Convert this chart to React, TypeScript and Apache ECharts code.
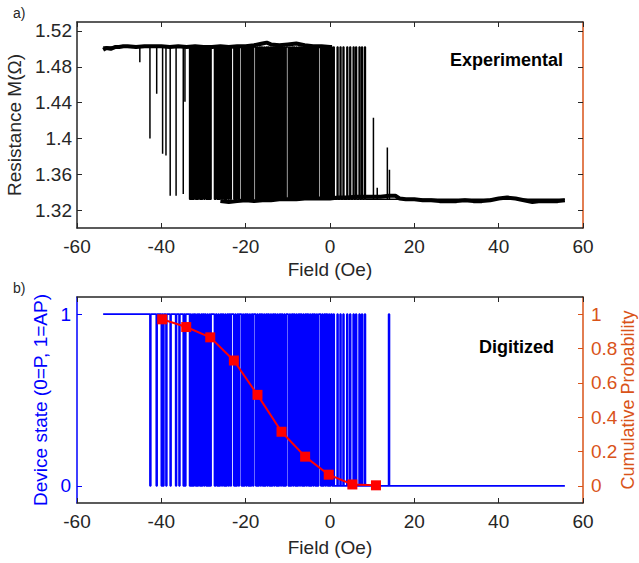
import React, { useEffect, useRef } from "react";
import * as echarts from "echarts";

// ---------- data ----------
const resistanceTicks = [1.32, 1.36, 1.4, 1.44, 1.48, 1.52];
const stateTicks = [0, 1];
const probTicks = [0, 0.2, 0.4, 0.6, 0.8, 1];

// switching levels of the experimental trace (MΩ)
const highLevel = 1.502;
const lowLevel = 1.332;
const traceStart = -53.8;
const traceEnd = 55.7;

// noisy high-resistance (AP) band [field, R]
const highBand: [number, number][] = [
  [-53.8, 1.499], [-53, 1.501], [-52, 1.5], [-51, 1.502], [-50, 1.502], [-49, 1.503],
  [-48, 1.503], [-46, 1.502], [-44, 1.503], [-42, 1.503], [-40, 1.503], [-38, 1.502],
  [-36, 1.503], [-34, 1.502], [-32, 1.503], [-30, 1.502], [-28, 1.502], [-26, 1.503],
  [-24, 1.502], [-22, 1.503], [-20, 1.503], [-18, 1.504], [-16, 1.506], [-15, 1.507],
  [-14, 1.505], [-12, 1.504], [-10, 1.505], [-8, 1.506], [-6, 1.504], [-4, 1.503],
  [-2, 1.503], [0, 1.502], [0.5, 1.502],
];

// noisy low-resistance (P) band [field, R]
const lowBand: [number, number][] = [
  [-26, 1.33], [-24, 1.329], [-22, 1.33], [-20, 1.331], [-18, 1.33], [-16, 1.331],
  [-14, 1.331], [-12, 1.332], [-10, 1.332], [-8, 1.332], [-6, 1.333], [-4, 1.333],
  [-2, 1.333], [0, 1.333], [2, 1.334], [4, 1.334], [6, 1.335], [8, 1.335], [10, 1.335],
  [12, 1.335], [14, 1.336], [15.5, 1.336], [16.5, 1.333], [18, 1.332], [20, 1.332],
  [22, 1.331], [24, 1.331], [26, 1.33], [28, 1.33], [30, 1.33], [32, 1.331], [34, 1.33],
  [36, 1.33], [38, 1.331], [40, 1.333], [42, 1.334], [44, 1.333], [46, 1.331], [48, 1.329],
  [50, 1.33], [52, 1.33], [54, 1.33], [55.7, 1.331],
];

// isolated downward spikes of the experimental trace before the dense region [field, minimum R]
const expLeftSpikes: [number, number][] = [
  [-45.1, 1.485], [-42.7, 1.4], [-41.1, 1.45], [-39.7, 1.383], [-38.9, 1.381],
  [-37.9, 1.336], [-36.5, 1.336], [-34.8, 1.338], [-34.4, 1.441],
];

// upward spikes of the experimental trace after switching [field, maximum R]
const expRightSpikes: [number, number][] = [
  [10.3, 1.423], [11.2, 1.345], [13.6, 1.39], [14.1, 1.365],
];

// digitized state flips before the dense region (starting in AP = 1)
const digLeftToggles = [
  -42.7, -42.5, -41.2, -41.0, -40.0, -39.8, -39.6, -39.4, -38.9, -38.7,
  -37.9, -37.7, -36.6, -36.4, -35.8, -35.6, -34.8, -34.6, -34.4, -34.2,
];

// state flips common to both panels (dense telegraph-noise region)
const sharedToggles = [
  -33.3, -33.1, -32.9, -32.6, -32.4, -32.2, -31.9, -31.6, -31.4, -31.2, -30.9,
  -30.6, -30.4, -30.2, -29.9, -29.7, -29.4, -29.1, -28.9, -28.6, -28.4, -28.2,
  -27.4, -27.1, -26.8, -26.5, -26.3, -26.0, -25.7, -25.5, -25.2, -24.9, -24.7,
  -24.4, -24.1, -23.9, -23.6, -23.4,
  -22.8, -22.5, -22.3, -22.0, -21.7, -21.5,
  -21.0, -20.7, -20.5, -20.2, -19.9, -19.7, -19.4, -19.1, -18.9, -18.6, -18.3, -18.1,
  -17.6, -17.3, -17.1, -16.8, -16.5, -16.3, -16.0, -15.7, -15.5, -15.2, -14.9,
  -14.7, -14.4, -14.1, -13.9, -13.6, -13.3, -13.1, -12.8, -12.5, -12.3, -12.0,
  -11.7, -11.5, -11.2, -10.9, -10.7, -10.4,
  -9.9, -9.6, -9.4, -9.1, -8.8, -8.6, -8.3, -8.0, -7.8, -7.5, -7.2, -7.0, -6.7,
  -6.4, -6.2, -5.9, -5.6, -5.4, -5.1, -4.8, -4.6, -4.3, -4.0, -3.8, -3.5, -3.2,
  -3.0, -2.7,
  -2.2, -1.9, -1.7, -1.4, -1.1, -0.9, -0.6, -0.3, -0.1, 0.2, 0.5,
  0.8, 1.0, 1.7, 1.9, 2.4, 2.6, 3.1, 3.3, 4.0, 4.2, 4.7, 4.9, 5.5, 5.7, 6.1, 6.3,
  6.9, 7.1, 7.5, 7.7, 8.2, 8.4,
];

// digitized flips after the dense region
const digRightToggles = [13.9, 14.1];

// cumulative switching probability
const probFields = [-39.8, -34.1, -28.4, -22.8, -17.2, -11.5, -5.9, -0.3, 5.3, 10.9];
const probValues = [0.97, 0.925, 0.865, 0.73, 0.53, 0.315, 0.17, 0.065, 0.008, 0.003];

// ---------- styling ----------
const FONT = "'Liberation Sans', Arial, Helvetica, sans-serif";
const DARK = "#262626";
const ORANGE = "#D95319";
const BLUE = "#0000FF";
const RED = "#FF0000";

function buildTopTrace(): [number, number][] {
  const pts: [number, number][] = [[traceStart, highLevel]];
  for (const [f, r] of expLeftSpikes) {
    pts.push([f, highLevel], [f, r], [f, highLevel]);
  }
  let high = true;
  for (const f of sharedToggles) {
    pts.push([f, high ? highLevel : lowLevel]);
    high = !high;
    pts.push([f, high ? highLevel : lowLevel]);
  }
  for (const [f, r] of expRightSpikes) {
    pts.push([f, lowLevel], [f, r], [f, lowLevel]);
  }
  pts.push([traceEnd, lowLevel]);
  return pts;
}

function buildDigitized(): [number, number][] {
  const toggles = [...digLeftToggles, ...sharedToggles, ...digRightToggles];
  let state = 1;
  const pts: [number, number][] = [[traceStart, state]];
  for (const f of toggles) {
    pts.push([f, state]);
    state = 1 - state;
    pts.push([f, state]);
  }
  pts.push([traceEnd, state]);
  return pts;
}

function xAxes(gridIndex: number) {
  const base = {
    type: "value" as const,
    gridIndex,
    min: -60,
    max: 60,
    interval: 20,
    splitLine: { show: false },
    axisLine: { onZero: false, lineStyle: { color: DARK, width: 1.5 } },
    axisTick: { inside: true, length: 5, lineStyle: { color: DARK, width: 1 } },
  };
  return [
    {
      ...base,
      position: "bottom",
      axisLabel: { fontSize: 19, color: DARK, margin: 9, fontFamily: FONT },
      name: "Field (Oe)",
      nameLocation: "middle",
      nameGap: gridIndex === 0 ? 32 : 35,
      nameTextStyle: { fontSize: 19, color: DARK, fontFamily: FONT },
    },
    { ...base, position: "top", axisLabel: { show: false } },
  ];
}

const fmt = (v: number) => String(+Number(v).toFixed(2));

export default function App() {
  const ref = useRef<HTMLDivElement>(null);

  useEffect(() => {
    if (!ref.current) return;
    const chart = echarts.init(ref.current, undefined, { renderer: "svg" });

    const option: any = {
      animation: false,
      backgroundColor: "#ffffff",
      textStyle: { fontFamily: FONT },
      grid: [
        { left: 77, right: 56, top: 22, height: 206, outerBoundsMode: "none", containLabel: false },
        { left: 77, right: 56, top: 297, height: 206, outerBoundsMode: "none", containLabel: false },
      ],
      xAxis: [...xAxes(0), ...xAxes(1)],
      yAxis: [
        {
          type: "value",
          gridIndex: 0,
          position: "left",
          min: 1.3,
          max: 1.53,
          splitLine: { show: false },
          axisLine: { onZero: false, lineStyle: { color: DARK, width: 1.5 } },
          axisTick: { inside: true, length: 5, customValues: resistanceTicks, lineStyle: { color: DARK } },
          axisLabel: { customValues: resistanceTicks, formatter: fmt, fontSize: 19, color: DARK, margin: 5, fontFamily: FONT },
          name: "Resistance M(Ω)",
          nameLocation: "middle",
          nameRotate: 90,
          nameGap: 48,
          nameTextStyle: { fontSize: 19, color: DARK, fontFamily: FONT },
        },
        {
          type: "value",
          gridIndex: 0,
          position: "right",
          min: 1.3,
          max: 1.53,
          splitLine: { show: false },
          axisLine: { onZero: false, lineStyle: { color: ORANGE, width: 1.5 } },
          axisTick: { inside: true, length: 5, customValues: resistanceTicks, lineStyle: { color: DARK } },
          axisLabel: { show: false },
        },
        {
          type: "value",
          gridIndex: 1,
          position: "left",
          min: -0.1,
          max: 1.1,
          splitLine: { show: false },
          axisLine: { onZero: false, lineStyle: { color: BLUE, width: 1.5 } },
          axisTick: { inside: true, length: 5, customValues: stateTicks, lineStyle: { color: BLUE } },
          axisLabel: { customValues: stateTicks, formatter: fmt, fontSize: 19, color: BLUE, margin: 6, fontFamily: FONT },
          name: "Device state (0=P, 1=AP)",
          nameLocation: "middle",
          nameRotate: 90,
          nameGap: 17,
          nameTextStyle: { fontSize: 19, color: BLUE, fontFamily: FONT },
        },
        {
          type: "value",
          gridIndex: 1,
          position: "right",
          min: -0.1,
          max: 1.1,
          splitLine: { show: false },
          axisLine: { onZero: false, lineStyle: { color: ORANGE, width: 1.5 } },
          axisTick: { inside: true, length: 5, customValues: probTicks, lineStyle: { color: ORANGE } },
          axisLabel: { customValues: probTicks, formatter: fmt, fontSize: 19, color: ORANGE, margin: 8, fontFamily: FONT },
        },
      ],
      series: [
        {
          type: "line",
          xAxisIndex: 0,
          yAxisIndex: 0,
          data: buildTopTrace(),
          showSymbol: false,
          symbol: "none",
          lineStyle: { color: "#000", width: 1.5 },
          silent: true,
          z: 2,
        },
        {
          type: "line",
          xAxisIndex: 0,
          yAxisIndex: 0,
          data: highBand,
          symbol: "none",
          lineStyle: { color: "#000", width: 4 },
          silent: true,
          z: 3,
        },
        {
          type: "line",
          xAxisIndex: 0,
          yAxisIndex: 0,
          data: lowBand,
          symbol: "none",
          lineStyle: { color: "#000", width: 4 },
          silent: true,
          z: 3,
        },
        {
          type: "line",
          xAxisIndex: 2,
          yAxisIndex: 2,
          data: buildDigitized(),
          symbol: "none",
          lineStyle: { color: BLUE, width: 1.7 },
          silent: true,
          z: 2,
        },
        {
          type: "line",
          xAxisIndex: 2,
          yAxisIndex: 3,
          data: probFields.map((f, i) => [f, probValues[i]]),
          symbol: "rect",
          symbolSize: 10,
          itemStyle: { color: RED },
          lineStyle: { color: RED, width: 2 },
          silent: true,
          z: 4,
        },
      ],
      graphic: [
        { type: "text", left: 13, top: 6, style: { text: "a)", fontSize: 14, fill: DARK, fontFamily: FONT } },
        { type: "text", left: 13, top: 281, style: { text: "b)", fontSize: 14, fill: DARK, fontFamily: FONT } },
        {
          type: "text",
          x: 563,
          y: 60,
          style: { text: "Experimental", fontSize: 18, fontWeight: "bold", fill: "#000", fontFamily: FONT, align: "right", verticalAlign: "middle" },
        },
        {
          type: "text",
          x: 554,
          y: 347,
          style: { text: "Digitized", fontSize: 18, fontWeight: "bold", fill: "#000", fontFamily: FONT, align: "right", verticalAlign: "middle" },
        },
        {
          type: "text",
          x: 628,
          y: 400,
          rotation: Math.PI / 2,
          style: { text: "Cumulative Probability", fontSize: 18, fill: ORANGE, fontFamily: FONT, align: "center", verticalAlign: "middle" },
        },
      ],
    };

    chart.setOption(option);
    return () => chart.dispose();
  }, []);

  return (
    <div
      ref={ref}
      style={{ position: "absolute", left: 0, top: 0, width: 639, height: 563, background: "#fff" }}
    />
  );
}
